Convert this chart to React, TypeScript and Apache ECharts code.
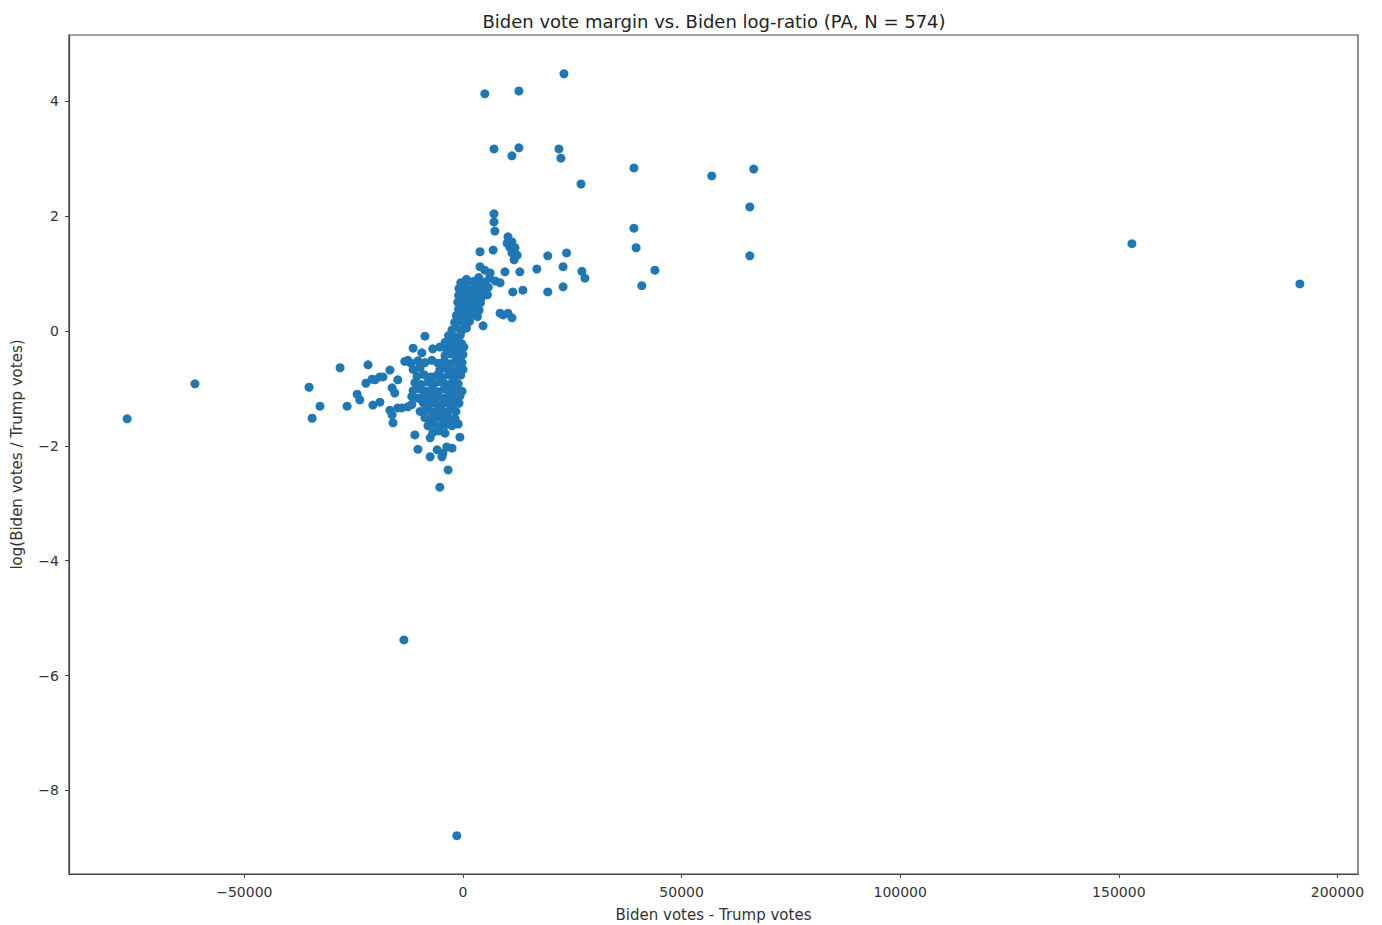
import React, { useEffect, useRef } from "react";
import * as echarts from "echarts";

// [Biden votes - Trump votes, log(Biden votes / Trump votes)]
const farOutliers: number[][] = [
  [-76800, -1.53], [-61300, -0.92], [-13500, -5.38], [-1400, -8.79], [153000, 1.52], [191400, 0.82],
];

const rightSpread: number[][] = [
  [23100, 4.48], [5000, 4.13], [12800, 4.18], [7100, 3.17], [12800, 3.19], [11200, 3.05],
  [21950, 3.17], [22400, 3.01], [27000, 2.56], [39100, 2.84], [56900, 2.7], [66500, 2.82],
  [65600, 2.16], [65600, 1.31], [39100, 1.79], [39600, 1.45], [43900, 1.06], [40900, 0.79],
  [19400, 1.31], [23700, 1.36], [16900, 1.08], [22900, 1.12], [27200, 1.04], [27900, 0.92],
  [19400, 0.68], [22900, 0.77], [13700, 0.71], [13000, 1.03], [7100, 2.04], [7100, 1.9], [7300, 1.74],
];

const upperBranch: number[][] = [
  [3900, 1.38], [6900, 1.41], [10100, 1.53], [10300, 1.64], [11200, 1.55], [10700, 1.46],
  [11900, 1.45], [11200, 1.36], [12400, 1.32], [11700, 1.24], [5000, 1.06], [6200, 1.01],
  [9600, 1.03], [3900, 1.12], [11400, 0.68], [8500, 0.84], [4600, 0.09], [8500, 0.31],
  [10300, 0.31], [11200, 0.23], [9200, 0.28],
  [-500, 0.84], [800, 0.9], [2300, 0.86], [3600, 0.93], [4900, 0.85], [6100, 0.92], [7400, 0.87],
  [-900, 0.74], [600, 0.79], [1900, 0.72], [3300, 0.78], [4500, 0.71], [5800, 0.76],
  [-1000, 0.62], [300, 0.67], [1500, 0.6], [2900, 0.65], [4200, 0.58], [5600, 0.63],
  [-1200, 0.5], [100, 0.54], [1300, 0.47], [2600, 0.53], [4000, 0.49],
  [-1000, 0.38], [-100, 0.43], [1200, 0.36], [2400, 0.41], [3700, 0.36],
  [-1500, 0.27], [-300, 0.3], [800, 0.24], [2000, 0.29], [3300, 0.25],
  [-1900, 0.15], [-800, 0.18], [400, 0.13], [1500, 0.17],
  [-2500, 0.02], [-1500, 0.06], [-300, 0.01], [800, 0.05],
  [-3300, -0.08], [-1900, -0.11], [-600, -0.07],
  [-4100, -0.2], [-2800, -0.23], [-1500, -0.19], [-300, -0.22],
];

const middleBand: number[][] = [
  [-6900, -0.31], [-5300, -0.28], [-3700, -0.33], [-2300, -0.29], [-900, -0.32], [200, -0.28],
  [-4100, -0.43], [-2700, -0.4], [-1400, -0.44], [0, -0.41],
  [-13300, -0.53], [-11900, -0.56], [-10300, -0.52], [-8700, -0.55], [-7100, -0.51],
  [-5700, -0.56], [-4300, -0.53], [-3000, -0.57], [-1600, -0.52], [-200, -0.55],
  [-11400, -0.67], [-9800, -0.64], [-5300, -0.68], [-3900, -0.65], [-2500, -0.69], [-1100, -0.64], [0, -0.67],
  [-10500, -0.79], [-8900, -0.76], [-7300, -0.8], [-5900, -0.77], [-4600, -0.81], [-3200, -0.76], [-1800, -0.79], [-500, -0.77],
  [-11000, -0.9], [-9600, -0.93], [-8000, -0.89], [-6600, -0.92], [-5300, -0.88], [-3900, -0.93], [-2500, -0.9], [-1100, -0.92],
  [-11400, -1.04], [-9800, -1.01], [-8500, -1.05], [-7100, -1.02], [-5700, -1.06], [-4300, -1.01], [-3000, -1.04], [-1600, -1.02], [-200, -1.05],
  [-11700, -1.14], [-10300, -1.17], [-8900, -1.13], [-7500, -1.16], [-6200, -1.13], [-4800, -1.17], [-3400, -1.14], [-2100, -1.16], [-700, -1.13],
  [-11700, -1.28], [-9100, -1.25], [-7800, -1.29], [-6400, -1.26], [-5000, -1.3], [-3700, -1.25], [-2300, -1.28], [-900, -1.26],
  [-9800, -1.4], [-8500, -1.37], [-7100, -1.41], [-5700, -1.38], [-4300, -1.42], [-3000, -1.37], [-1600, -1.4],
  [-8700, -1.51], [-7300, -1.54], [-5900, -1.5], [-4600, -1.55], [-3200, -1.51], [-1800, -1.53],
  [-8000, -1.65], [-6600, -1.62], [-5300, -1.66], [-3900, -1.63], [-2500, -1.65], [-1100, -1.62],
  [-6900, -1.77], [-5500, -1.74], [-4100, -1.78],
];

const lowerScatter: number[][] = [
  [-14000, -1.34], [-11000, -1.81], [-10300, -2.06], [-7500, -1.86], [-7500, -2.19],
  [-5900, -2.07], [-4600, -2.13], [-2500, -2.04], [-700, -1.85], [-3400, -2.42],
  [-5300, -2.72], [-3700, -2.02], [-4800, -2.19],
];

const leftWing: number[][] = [
  [-35200, -0.98], [-32700, -1.31], [-34500, -1.52], [-28100, -0.64], [-26500, -1.31],
  [-21700, -0.59], [-22200, -0.91], [-24200, -1.1], [-23600, -1.2], [-20600, -1.29],
  [-19000, -1.24], [-20800, -0.84], [-19000, -0.8], [-16700, -0.68], [-14900, -0.85],
  [-16200, -0.99], [-15600, -1.08], [-16700, -1.38], [-14900, -1.34], [-16000, -1.6],
  [-12600, -1.32], [-11400, -0.3], [-9400, -0.38], [-8700, -0.09], [-12600, -0.51],
  [-18300, -0.8], [-20100, -0.85], [-16200, -1.46],
];

const xTicks = [-50000, 0, 50000, 100000, 150000, 200000];
const yTicks = [-8, -6, -4, -2, 0, 2, 4];

const allPoints = [
  ...farOutliers, ...rightSpread, ...upperBranch, ...middleBand, ...lowerScatter, ...leftWing,
];

const fmt = (v: number) => String(v).replace("-", "\u2212");
const font = "DejaVu Sans";
const frame = "#444";

export default function App() {
  const ref = useRef<HTMLDivElement>(null);
  useEffect(() => {
    if (!ref.current) return;
    const chart = echarts.init(ref.current, undefined, { renderer: "svg" });
    chart.setOption({
      animation: false,
      backgroundColor: "#fff",
      title: {
        text: "Biden vote margin vs. Biden log-ratio (PA, N = 574)",
        left: 709,
        textAlign: "center",
        top: 7,
        textStyle: { fontFamily: font, fontSize: 18, fontWeight: "normal", color: "#222" },
      },
      grid: {
        left: 69, right: 24, top: 35, bottom: 51,
        outerBoundsMode: "none",
        containLabel: false,
        show: true, borderColor: frame, borderWidth: 1.2,
      },
      xAxis: {
        type: "value",
        min: -90100,
        max: 204700,
        splitLine: { show: false },
        axisLine: { show: true, onZero: false, lineStyle: { color: frame, width: 1.2 } },
        axisTick: { show: true, customValues: xTicks, length: 4, lineStyle: { color: frame } },
        axisLabel: {
          customValues: xTicks, formatter: fmt, color: "#333",
          fontFamily: font, fontSize: 14, margin: 11,
        },
        name: "Biden votes - Trump votes",
        nameLocation: "middle",
        nameGap: 33,
        nameTextStyle: { fontFamily: font, fontSize: 15, color: "#333" },
      },
      yAxis: {
        type: "value",
        min: -9.457,
        max: 5.155,
        splitLine: { show: false },
        axisLine: { show: true, onZero: false, lineStyle: { color: frame, width: 1.2 } },
        axisTick: { show: true, customValues: yTicks, length: 4, lineStyle: { color: frame } },
        axisLabel: {
          customValues: yTicks, formatter: fmt, color: "#333",
          fontFamily: font, fontSize: 14, margin: 10,
        },
        name: "log(Biden votes / Trump votes)",
        nameLocation: "middle",
        nameGap: 45,
        nameTextStyle: { fontFamily: font, fontSize: 15, color: "#333" },
      },
      series: [
        {
          type: "scatter",
          data: allPoints,
          symbolSize: 9,
          itemStyle: { color: "#1f77b4", opacity: 1 },
        },
      ],
    });
    return () => chart.dispose();
  }, []);
  return (
    <div
      ref={ref}
      style={{ position: "fixed", left: 0, top: 0, width: 1382, height: 925 }}
    />
  );
}
